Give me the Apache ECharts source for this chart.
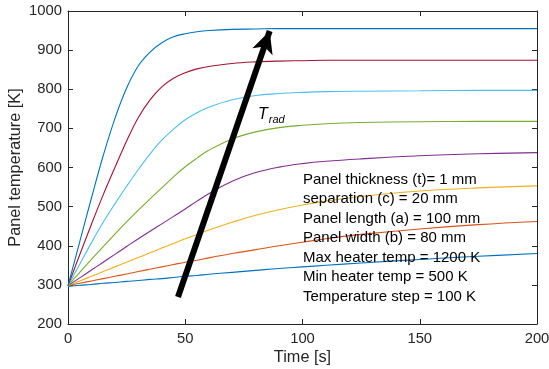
<!DOCTYPE html>
<html>
<head>
<meta charset="utf-8">
<script src="https://cdn.jsdelivr.net/npm/echarts@6/dist/echarts.min.js"></script>
<style>
  html, body { margin: 0; padding: 0; background: #fff; }
  #chart { width: 549px; height: 369px; }
</style>
</head>
<body>
<div id="chart"></div>
<script>
// Simulation time samples [s]
const times = [0, 5, 10, 15, 20, 25, 30, 35, 40, 45, 50, 55, 60, 70, 80, 90, 100, 110, 125, 150, 175, 200];

// Panel temperature [K] for each heater temperature
const temp500  = [296, 299, 301, 304, 306, 309, 311, 314, 316, 319, 322, 324, 327, 332, 337, 342, 346, 350, 356, 365, 373, 380];
const temp600  = [298, 304, 310, 316, 322, 328, 334, 340, 346, 352, 358, 363, 369, 380, 390, 400, 409, 418, 429, 443, 454, 462];
const temp700  = [298, 310, 322, 334, 346, 358, 370, 382, 394, 406, 418, 429, 440, 460, 478, 492, 504, 514, 526, 540, 548, 553];
const temp800  = [298, 318, 338, 358, 378, 398, 418, 437, 456, 475, 494, 514, 533, 565, 587, 601, 610, 616, 622, 630, 635, 638];
const temp900  = [298, 332, 365, 398, 430, 461, 491, 520, 548, 576, 602, 624, 644, 673, 691, 702, 708, 712, 715, 717, 718, 718];
const temp1000 = [298, 353, 408, 460, 507, 552, 595, 635, 670, 698, 722, 740, 754, 773, 784, 789, 792, 794, 795, 796, 797, 797];
const temp1100 = [298, 377, 455, 530, 600, 668, 728, 773, 806, 828, 842, 852, 858, 866, 870, 872, 873, 874, 874, 874, 874, 874];
const temp1200 = [298, 410, 522, 630, 725, 803, 860, 895, 919, 934, 942, 947, 950, 953, 954, 955, 955, 955, 955, 955, 955, 955];

const heaterNames = ['500 K', '600 K', '700 K', '800 K', '900 K', '1000 K', '1100 K', '1200 K'];
const heaterSeries = [temp500, temp600, temp700, temp800, temp900, temp1000, temp1100, temp1200];
const lineColors = ['#0072BD', '#D95319', '#EDB120', '#7E2F8E', '#77AC30', '#4DBEEE', '#A2142F', '#0072BD'];

// Axis ticks
const xTicks = { min: 0, max: 200, step: 50 };
const yTicks = { min: 200, max: 1000, step: 100 };

// Direction arrow for increasing T_rad: [time, temperature] of tail and tip
const arrowTail = [46.9, 269];
const arrowTip = [86, 949];

// Run parameters
const paramLines = [
  'Panel thickness (t)= 1 mm',
  'separation (c) = 20 mm',
  'Panel length (a) = 100 mm',
  'Panel width (b) = 80 mm',
  'Max heater temp = 1200 K',
  'Min heater temp = 500 K',
  'Temperature step = 100 K'
];

const FONT = '"Liberation Sans", Arial, Helvetica, sans-serif';
const AX = '#262626';

const chart = echarts.init(document.getElementById('chart'), null, { renderer: 'canvas' });

const series = heaterSeries.map((vals, i) => ({
  name: heaterNames[i],
  type: 'line',
  data: times.map((t, k) => [t, vals[k]]),
  showSymbol: false,
  smooth: 0.4,
  lineStyle: { color: lineColors[i], width: 1.1 },
  itemStyle: { color: lineColors[i] },
  silent: true,
  z: 2
}));

series.push({
  name: 'arrow',
  type: 'line',
  data: [],
  silent: true,
  z: 5,
  markLine: {
    silent: true,
    animation: false,
    symbol: ['none', 'arrow'],
    symbolSize: [16, 22],
    label: { show: false },
    emphasis: { disabled: true },
    lineStyle: { color: '#000', width: 6, type: 'solid', cap: 'butt' },
    data: [[{ coord: arrowTail }, { coord: arrowTip }]]
  }
});

const baseAxis = {
  type: 'value',
  splitLine: { show: false },
  axisLine: { show: true, onZero: false, lineStyle: { color: AX, width: 1 } },
  axisTick: { show: true, inside: true, length: 5, lineStyle: { color: AX, width: 1 } }
};

chart.setOption({
  animation: false,
  backgroundColor: '#fff',
  grid: { left: 68, top: 11, width: 469, height: 313, containLabel: false, outerBoundsMode: 'none' },
  xAxis: [
    Object.assign({}, baseAxis, {
      position: 'bottom',
      min: xTicks.min, max: xTicks.max, interval: xTicks.step,
      name: 'Time [s]',
      nameLocation: 'middle',
      nameMoveOverlap: false,
      nameGap: 26,
      nameTextStyle: { fontFamily: FONT, fontSize: 16.3, color: AX },
      axisLabel: { margin: 7, fontFamily: FONT, fontSize: 14.8, color: AX, formatter: v => String(v) }
    }),
    Object.assign({}, baseAxis, {
      position: 'top',
      min: xTicks.min, max: xTicks.max, interval: xTicks.step,
      axisLabel: { show: false }
    })
  ],
  yAxis: [
    Object.assign({}, baseAxis, {
      position: 'left',
      min: yTicks.min, max: yTicks.max, interval: yTicks.step,
      name: 'Panel temperature [K]',
      nameLocation: 'middle',
      nameMoveOverlap: false,
      nameGap: 44,
      nameTextStyle: { fontFamily: FONT, fontSize: 16.3, color: AX },
      axisLabel: { margin: 6, fontFamily: FONT, fontSize: 14.8, color: AX, formatter: v => String(v) }
    }),
    Object.assign({}, baseAxis, {
      position: 'right',
      min: yTicks.min, max: yTicks.max, interval: yTicks.step,
      axisLabel: { show: false }
    })
  ],
  series: series,
  graphic: [
    {
      type: 'text',
      left: 258,
      top: 107,
      z: 10,
      silent: true,
      style: {
        text: '{t|T}{s|rad}',
        rich: {
          t: { fontFamily: FONT, fontStyle: 'italic', fontSize: 16, fill: '#000', verticalAlign: 'bottom', lineHeight: 17 },
          s: { fontFamily: FONT, fontStyle: 'italic', fontSize: 11, fill: '#000', verticalAlign: 'bottom', lineHeight: 14, padding: [0, 0, -2, 1] }
        }
      }
    },
    {
      type: 'text',
      left: 303,
      top: 170,
      z: 10,
      silent: true,
      style: {
        text: paramLines.join('\n'),
        fontFamily: FONT,
        fontSize: 15,
        lineHeight: 19.5,
        fill: '#000'
      }
    }
  ]
});
</script>
</body>
</html>
